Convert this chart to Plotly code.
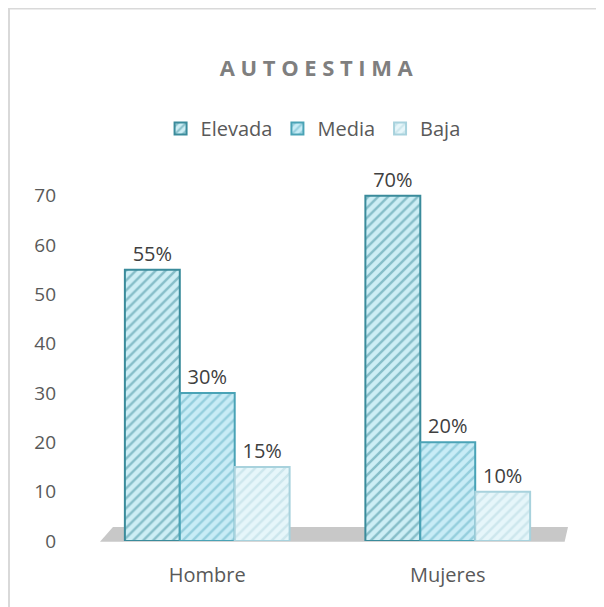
import plotly.graph_objects as go

categories = ["Hombre", "Mujeres"]
series_names = ["Elevada", "Media", "Baja"]
elevada = [55, 70]
media = [30, 20]
baja = [15, 10]
y_ticks = [0, 10, 20, 30, 40, 50, 60, 70]

styles = {
    "Elevada": dict(bg="#cdeef5", fg="#3f8e9c", line="#3a8b9b"),
    "Media": dict(bg="#c8ecf6", fg="#5fb0c4", line="#4aa3b6"),
    "Baja": dict(bg="#e6f6fa", fg="#b3d7e0", line="#a8d2dd"),
}

FONT = "Open Sans, sans-serif"
fig = go.Figure()
for name, vals in zip(series_names, [elevada, media, baja]):
    s = styles[name]
    fig.add_trace(go.Bar(
        name=name, x=categories, y=vals,
        text=[f"{v}%" for v in vals], textposition="outside",
        textfont=dict(size=20, color="#404040", family=FONT),
        cliponaxis=False,
        marker=dict(color=s["bg"], line=dict(color=s["line"], width=2),
                    pattern=dict(shape="/", fgcolor=s["fg"], bgcolor=s["bg"],
                                 size=7, solidity=0.35, fillmode="overlay")),
    ))

L, T, W, H = 79, 163, 481, 370
fig.update_layout(
    width=604, height=607,
    paper_bgcolor="white", plot_bgcolor="white",
    margin=dict(l=L, r=604 - L - W, t=T, b=607 - T - H),
    barmode="group", bargap=0.315, bargroupgap=0,
    title=dict(text="<b><span style='letter-spacing:5.6px'>AUTOESTIMA</span></b>",
               x=0.515, xanchor="center", y=0.901, yanchor="middle",
               font=dict(size=22, color="#7f7f7f", family=FONT)),
    legend=dict(orientation="h", x=0.47, xanchor="center", y=1.115, yanchor="middle",
                font=dict(size=20, color="#595959", family=FONT), traceorder="normal",
                itemwidth=30, bgcolor="rgba(0,0,0,0)"),
    font=dict(family=FONT, color="#595959"),
    yaxis=dict(range=[0, 75], tickvals=y_ticks, showgrid=False, zeroline=False,
               showline=False, ticklabelstandoff=30,
               tickfont=dict(size=19, color="#595959", family=FONT)),
    xaxis=dict(showline=False, showgrid=False, ticklabelstandoff=20,
               tickfont=dict(size=20, color="#595959", family=FONT)),
    shapes=[
        dict(type="path", xref="paper", yref="paper",
             path="M 0.027 -0.002 L 0.054 0.038 L 1.0 0.038 L 0.993 -0.002 Z",
             fillcolor="#c8c8c8", line=dict(width=0), layer="below"),
        dict(type="rect", xref="paper", yref="paper",
             x0=(1 - L) / W, y0=-0.3, x1=1.2, y1=(T + H - 0.5) / H,
             line=dict(color="#d9d9d9", width=2), fillcolor="rgba(0,0,0,0)", layer="below"),
    ],
)

fig.write_html("out.html")
